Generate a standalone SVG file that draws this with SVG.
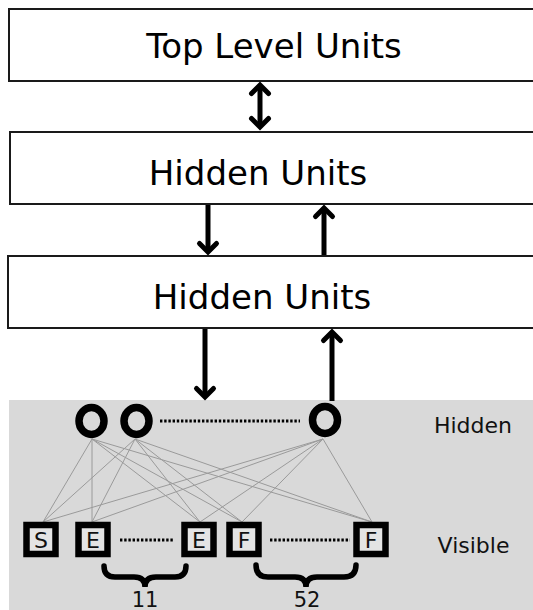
<svg xmlns="http://www.w3.org/2000/svg" width="533" height="610" viewBox="0 0 533 610">
  <style>
    .box { fill: #ffffff; stroke: #1a1a1a; stroke-width: 2; }
    .title { font-family: "DejaVu Sans", "Liberation Sans", sans-serif; font-size: 34px; fill: #000; text-anchor: middle; }
    .label { font-family: "DejaVu Sans", "Liberation Sans", sans-serif; font-size: 22px; fill: #111; text-anchor: middle; }
    .count { font-family: "DejaVu Sans", "Liberation Sans", sans-serif; font-size: 21px; fill: #111; text-anchor: middle; }
    .shaft { stroke: #000; stroke-width: 5; fill: none; }
    .unit { fill: #d9d9d9; stroke: #000; stroke-width: 7.5; }
    .vis { fill: #e4e4e4; stroke: #000; stroke-width: 6.5; }
    .weight { stroke: #9a9a9a; stroke-width: 1; fill: none; }
    .dots { stroke: #000; stroke-width: 3; stroke-dasharray: 2.4 1.8; fill: none; }
    .brace { stroke: #000; stroke-width: 5.5; fill: none; stroke-linecap: round; }
  </style>
  <defs>
    <marker id="chevron" markerUnits="userSpaceOnUse" orient="auto-start-reverse" markerWidth="30" markerHeight="30" refX="0" refY="0" viewBox="-15 -15 30 30" overflow="visible">
      <path d="M-8.5,-8.5 L0,0 L-8.5,8.5" fill="none" stroke="#000" stroke-width="5" stroke-linecap="round" stroke-linejoin="miter"/>
    </marker>
  </defs>

  <!-- layer boxes -->
  <g id="top-level">
    <rect class="box" x="9" y="9" width="540" height="72"/>
    <text class="title" x="274" y="58">Top Level Units</text>
  </g>
  <g id="hidden-2">
    <rect class="box" x="10" y="132" width="540" height="72"/>
    <text class="title" x="258" y="185">Hidden Units</text>
  </g>
  <g id="hidden-1">
    <rect class="box" x="8" y="256" width="540" height="72"/>
    <text class="title" x="262" y="309">Hidden Units</text>
  </g>

  <!-- RBM panel -->
  <g id="rbm">
    <rect x="9" y="400" width="530" height="215" fill="#d9d9d9"/>
    <text class="label" x="473" y="433">Hidden</text>
    <text class="label" x="473.5" y="553">Visible</text>

    <!-- weights between hidden and visible units -->
    <g id="weights">
      <path class="weight" d="M92,439 L43,522 M92,439 L92,522 M92,439 L200,522 M92,439 L242,522 M92,439 L372,522"/>
      <path class="weight" d="M135,439 L43,522 M135,439 L92,522 M135,439 L200,522 M135,439 L242,522 M135,439 L372,522"/>
      <path class="weight" d="M323,439 L43,522 M323,439 L92,522 M323,439 L200,522 M323,439 L242,522 M323,439 L372,522"/>
    </g>

    <g id="h1"><ellipse class="unit" cx="91.5" cy="421" rx="12.5" ry="13.5"/></g>
    <g id="h2"><ellipse class="unit" cx="136.5" cy="421" rx="12.5" ry="13.5"/></g>
    <g id="h3"><ellipse class="unit" cx="325" cy="420" rx="12.5" ry="13.5"/></g>
    <line class="dots" x1="160" y1="421" x2="300" y2="421"/>

    <g id="v-s"><rect class="vis" x="26.5" y="525" width="29" height="29"/><text class="label" x="41" y="548">S</text></g>
    <g id="v-e1"><rect class="vis" x="78.5" y="525" width="29" height="29"/><text class="label" x="93" y="548">E</text></g>
    <g id="v-e2"><rect class="vis" x="184.5" y="525" width="29" height="29"/><text class="label" x="199" y="548">E</text></g>
    <g id="v-f1"><rect class="vis" x="229.5" y="525" width="29" height="29"/><text class="label" x="244" y="548">F</text></g>
    <g id="v-f2"><rect class="vis" x="356.5" y="525" width="29" height="29"/><text class="label" x="371" y="548">F</text></g>
    <line class="dots" x1="120" y1="540" x2="173" y2="540"/>
    <line class="dots" x1="270" y1="540" x2="350" y2="540"/>

    <!-- group sizes -->
    <g id="group-e">
      <path class="brace" d="M104,566 Q104,577 115,577 L134,577 Q145,577 145,587 Q145,577 156,577 L175,577 Q186,577 186,566"/>
      <text class="count" x="145" y="607">11</text>
    </g>
    <g id="group-f">
      <path class="brace" d="M256,565 Q256,577 268,577 L295,577 Q306,577 306,587 Q306,577 317,577 L344,577 Q356,577 356,565"/>
      <text class="count" x="307" y="607">52</text>
    </g>
  </g>

  <!-- connectors between layers -->
  <g id="connectors">
    <line class="shaft" x1="260" y1="85" x2="260" y2="127" marker-start="url(#chevron)" marker-end="url(#chevron)"/>
    <line class="shaft" x1="208" y1="205" x2="208" y2="252" marker-end="url(#chevron)"/>
    <line class="shaft" x1="324" y1="255" x2="324" y2="208" marker-end="url(#chevron)"/>
    <line class="shaft" x1="205" y1="329" x2="205" y2="397" marker-end="url(#chevron)"/>
    <line class="shaft" x1="332" y1="401" x2="332" y2="332" marker-end="url(#chevron)"/>
  </g>
</svg>
